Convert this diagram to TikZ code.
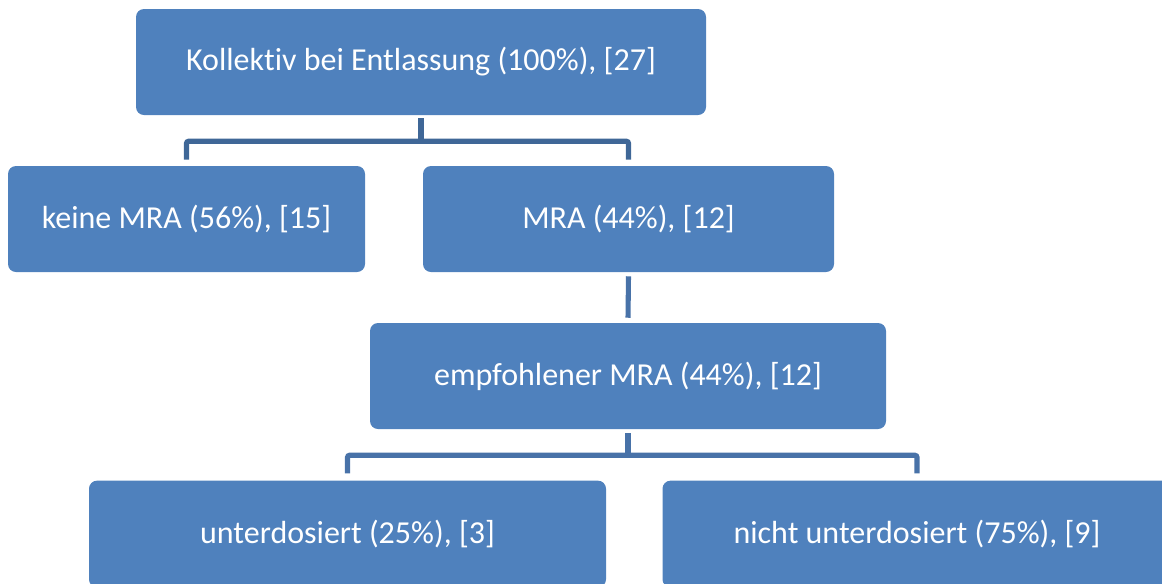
\documentclass[tikz,border=0pt]{standalone}
\usepackage{fontspec}
\setmainfont[Ligatures=NoCommon]{Carlito}
\usetikzlibrary{calc}
\definecolor{boxblue}{HTML}{4F81BD}
\definecolor{connA}{HTML}{3F6797}
\definecolor{connB}{HTML}{4872A8}
\tikzset{
  box/.style={fill=boxblue, draw=none, rounded corners=6pt, text=white,
    font=\fontsize{24}{28}\selectfont, inner sep=0pt, anchor=center},
  conn/.style={line width=3.8pt, rounded corners=1.5pt},
}
\begin{document}
\begin{tikzpicture}[x=0.75pt,y=-0.75pt]
\useasboundingbox (0,0) rectangle (1162,583);
\clip (0,0) rectangle (1162,583);
\node[box, minimum width=427.5pt, minimum height=79.5pt] (top) at (421,62) {Kollektiv bei Entlassung (100\%), [27]};
\node[box, minimum width=267.75pt, minimum height=79.5pt] (keine) at (186.5,219) {keine MRA (56\%), [15]};
\node[box, minimum width=308.25pt, minimum height=79.5pt] (mra) at (628.5,219) {MRA (44\%), [12]};
\node[box, minimum width=387pt, minimum height=79.5pt] (emp) at (628,376) {empfohlener MRA (44\%), [12]};
\node[box, minimum width=387.75pt, minimum height=80pt] (unter) at (347.5,534) {unterdosiert (25\%), [3]};
\node[box, minimum width=381.75pt, minimum height=80pt] (nicht) at (917,534) {nicht unterdosiert (75\%), [9]};
% first tree
\coordinate (j1) at ($(top.south)+(0,26)$);
\draw[conn, connA] ($(top.south)+(0,3)$) -- (j1);
\draw[conn, connA] (j1) -| ($(keine.north)+(0,-6)$);
\draw[conn, connA] (j1) -| ($(mra.north)+(0,-6)$);
% MRA -> empfohlen
\draw[conn, connB] ($(mra.south)+(0,4)$) -- ($(emp.north)+(0,-5)$);
% second tree
\coordinate (j2) at ($(emp.south)+(0,26)$);
\draw[conn, connB] ($(emp.south)+(0,4)$) -- (j2);
\draw[conn, connB] (j2) -| ($(unter.north)+(0,-7)$);
\draw[conn, connB] (j2) -| ($(nicht.north)+(0,-7)$);
\end{tikzpicture}
\end{document}
